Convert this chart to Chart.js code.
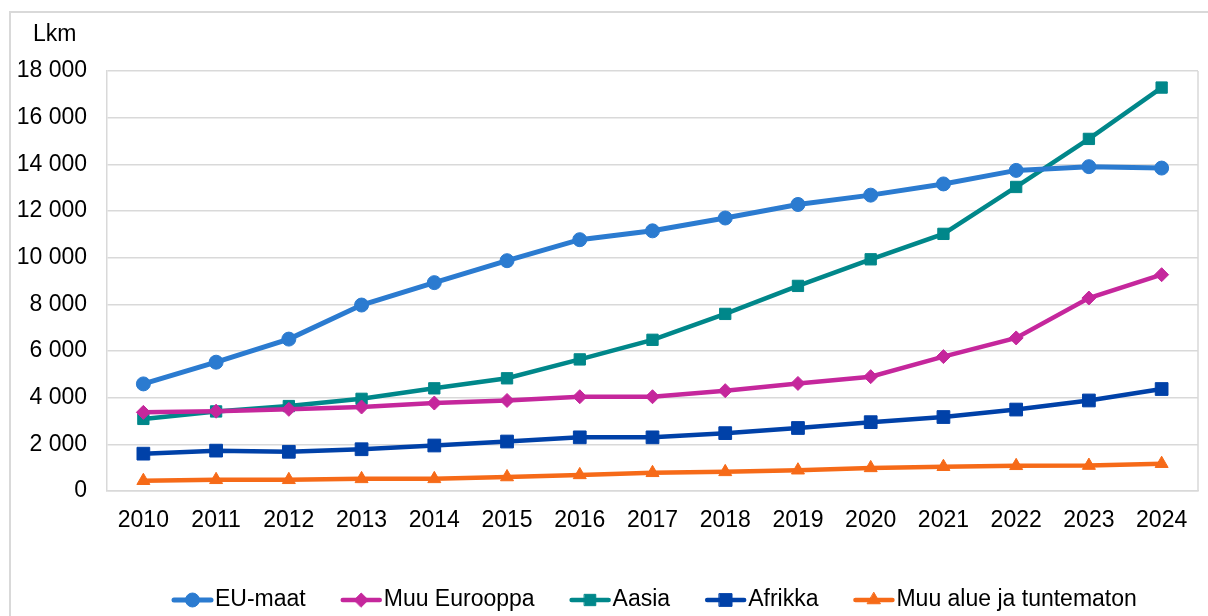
<!DOCTYPE html>
<html>
<head>
<meta charset="utf-8">
<script src="https://cdn.jsdelivr.net/npm/chart.js@4.4.1/dist/chart.umd.min.js"></script>
<style>
  html, body { margin: 0; padding: 0; background: #fff; }
  #wrap { position: relative; width: 1208px; height: 616px; overflow: hidden; }
  #frame { position: absolute; left: 9px; top: 11px; width: 1300px; height: 700px;
           border-left: 2px solid #d9d9d9; border-top: 2px solid #d9d9d9; }
  #box { position: absolute; left: 0; top: 0; width: 1208px; height: 616px; }
</style>
</head>
<body>
<div id="wrap">
  <div id="frame"></div>
  <div id="box"><canvas id="c"></canvas></div>
</div>
<script>
const years = ['2010','2011','2012','2013','2014','2015','2016','2017','2018','2019','2020','2021','2022','2023','2024'];
const euMaat      = [4590, 5520, 6510, 7970, 8930, 9870, 10770, 11150, 11700, 12280, 12680, 13160, 13740, 13900, 13840];
const muuEurooppa = [3370, 3420, 3500, 3600, 3770, 3880, 4040, 4040, 4300, 4610, 4900, 5760, 6560, 8270, 9270];
const aasia       = [3090, 3410, 3640, 3950, 4400, 4830, 5640, 6480, 7590, 8790, 9930, 11020, 13030, 15090, 17290];
const afrikka     = [1600, 1730, 1680, 1790, 1950, 2120, 2300, 2300, 2480, 2700, 2950, 3170, 3490, 3880, 4370];
const muuAlue     = [440, 480, 480, 520, 520, 600, 690, 780, 820, 890, 990, 1040, 1080, 1090, 1170];
const seriesNames = ['EU-maat', 'Muu Eurooppa', 'Aasia', 'Afrikka', 'Muu alue ja tuntematon'];
const yTickLabels = ['0', '2 000', '4 000', '6 000', '8 000', '10 000', '12 000', '14 000', '16 000', '18 000'];
const axisTitle = 'Lkm';

const FONT = '"Liberation Sans", Arial, sans-serif';

function ds(label, data, color, style, radius, width) {
  return {
    label, data,
    borderColor: color, backgroundColor: color,
    pointBackgroundColor: color, pointBorderColor: color,
    borderWidth: width, pointStyle: style, pointRadius: radius,
    pointBorderWidth: 1, pointHoverRadius: radius, tension: 0, fill: false
  };
}

const frameLines = {
  id: 'frameLines',
  beforeDatasetsDraw(chart) {
    const {ctx, chartArea} = chart;
    ctx.save();
    ctx.strokeStyle = '#d9d9d9';
    ctx.lineWidth = 1.5;
    ctx.beginPath();
    ctx.moveTo(chartArea.right, chartArea.top);
    ctx.lineTo(chartArea.right, chartArea.bottom);
    ctx.stroke();
    ctx.restore();
  }
};

const unitTitle = {
  id: 'unitTitle',
  afterDraw(chart) {
    const ctx = chart.ctx;
    ctx.save();
    ctx.font = '23px ' + FONT;
    ctx.fillStyle = '#000';
    ctx.textBaseline = 'alphabetic';
    ctx.fillText(axisTitle, 33, 41);
    ctx.restore();
  }
};

const customLegend = {
  id: 'customLegend',
  afterDraw(chart) {
    const ctx = chart.ctx;
    ctx.save();
    ctx.font = '23px ' + FONT;
    ctx.textBaseline = 'middle';
    ctx.fillStyle = '#000';
    let x = 172;
    const y = 600;
    chart.data.datasets.forEach(d => {
      ctx.strokeStyle = d.borderColor;
      ctx.lineWidth = d.borderWidth;
      ctx.lineCap = 'round';
      ctx.beginPath();
      ctx.moveTo(x + 2, y);
      ctx.lineTo(x + 39, y);
      ctx.stroke();
      ctx.fillStyle = d.pointBackgroundColor;
      ctx.strokeStyle = d.pointBorderColor;
      ctx.lineWidth = 1;
      Chart.helpers.drawPoint(ctx, {pointStyle: d.pointStyle, radius: d.pointRadius, rotation: 0, borderWidth: 1}, x + 20.5, y);
      ctx.fillStyle = '#000';
      const tx = x + 43;
      ctx.fillText(d.label, tx, y);
      x = tx + ctx.measureText(d.label).width + 35;
    });
    ctx.restore();
  }
};

new Chart(document.getElementById('c'), {
  type: 'line',
  data: {
    labels: years,
    datasets: [
      ds(seriesNames[0], euMaat, '#2B7BD0', 'circle', 7, 5),
      ds(seriesNames[1], muuEurooppa, '#C5279C', 'rectRot', 7, 4.5),
      ds(seriesNames[2], aasia, '#00878A', 'rect', 8, 4.5),
      ds(seriesNames[3], afrikka, '#0041A8', 'rect', 9, 4.5),
      ds(seriesNames[4], muuAlue, '#F66A18', 'triangle', 7.5, 4.5)
    ]
  },
  options: {
    responsive: true,
    maintainAspectRatio: false,
    animation: false,
    events: [],
    layout: { padding: { left: 0, right: 9, top: 71, bottom: 75 } },
    plugins: {
      legend: { display: false },
      tooltip: { enabled: false },
      title: { display: false }
    },
    scales: {
      x: {
        type: 'category',
        offset: true,
        grid: { display: false, drawTicks: false },
        border: { display: true, color: '#d9d9d9', width: 1.5 },
        ticks: { color: '#000', font: { family: FONT, size: 23 }, padding: 16, maxRotation: 0, autoSkip: false },
        afterFit(scale) { scale.height = 50; }
      },
      y: {
        min: 0, max: 18000,
        grid: { color: '#d9d9d9', lineWidth: 1.5, drawTicks: false },
        border: { display: true, color: '#d9d9d9', width: 1.5 },
        ticks: {
          stepSize: 2000, color: '#000', padding: 20,
          font: { family: FONT, size: 23 },
          callback: (v, i) => yTickLabels[i]
        },
        afterFit(scale) { scale.width = 107; }
      }
    }
  },
  plugins: [frameLines, unitTitle, customLegend]
});
</script>
</body>
</html>
